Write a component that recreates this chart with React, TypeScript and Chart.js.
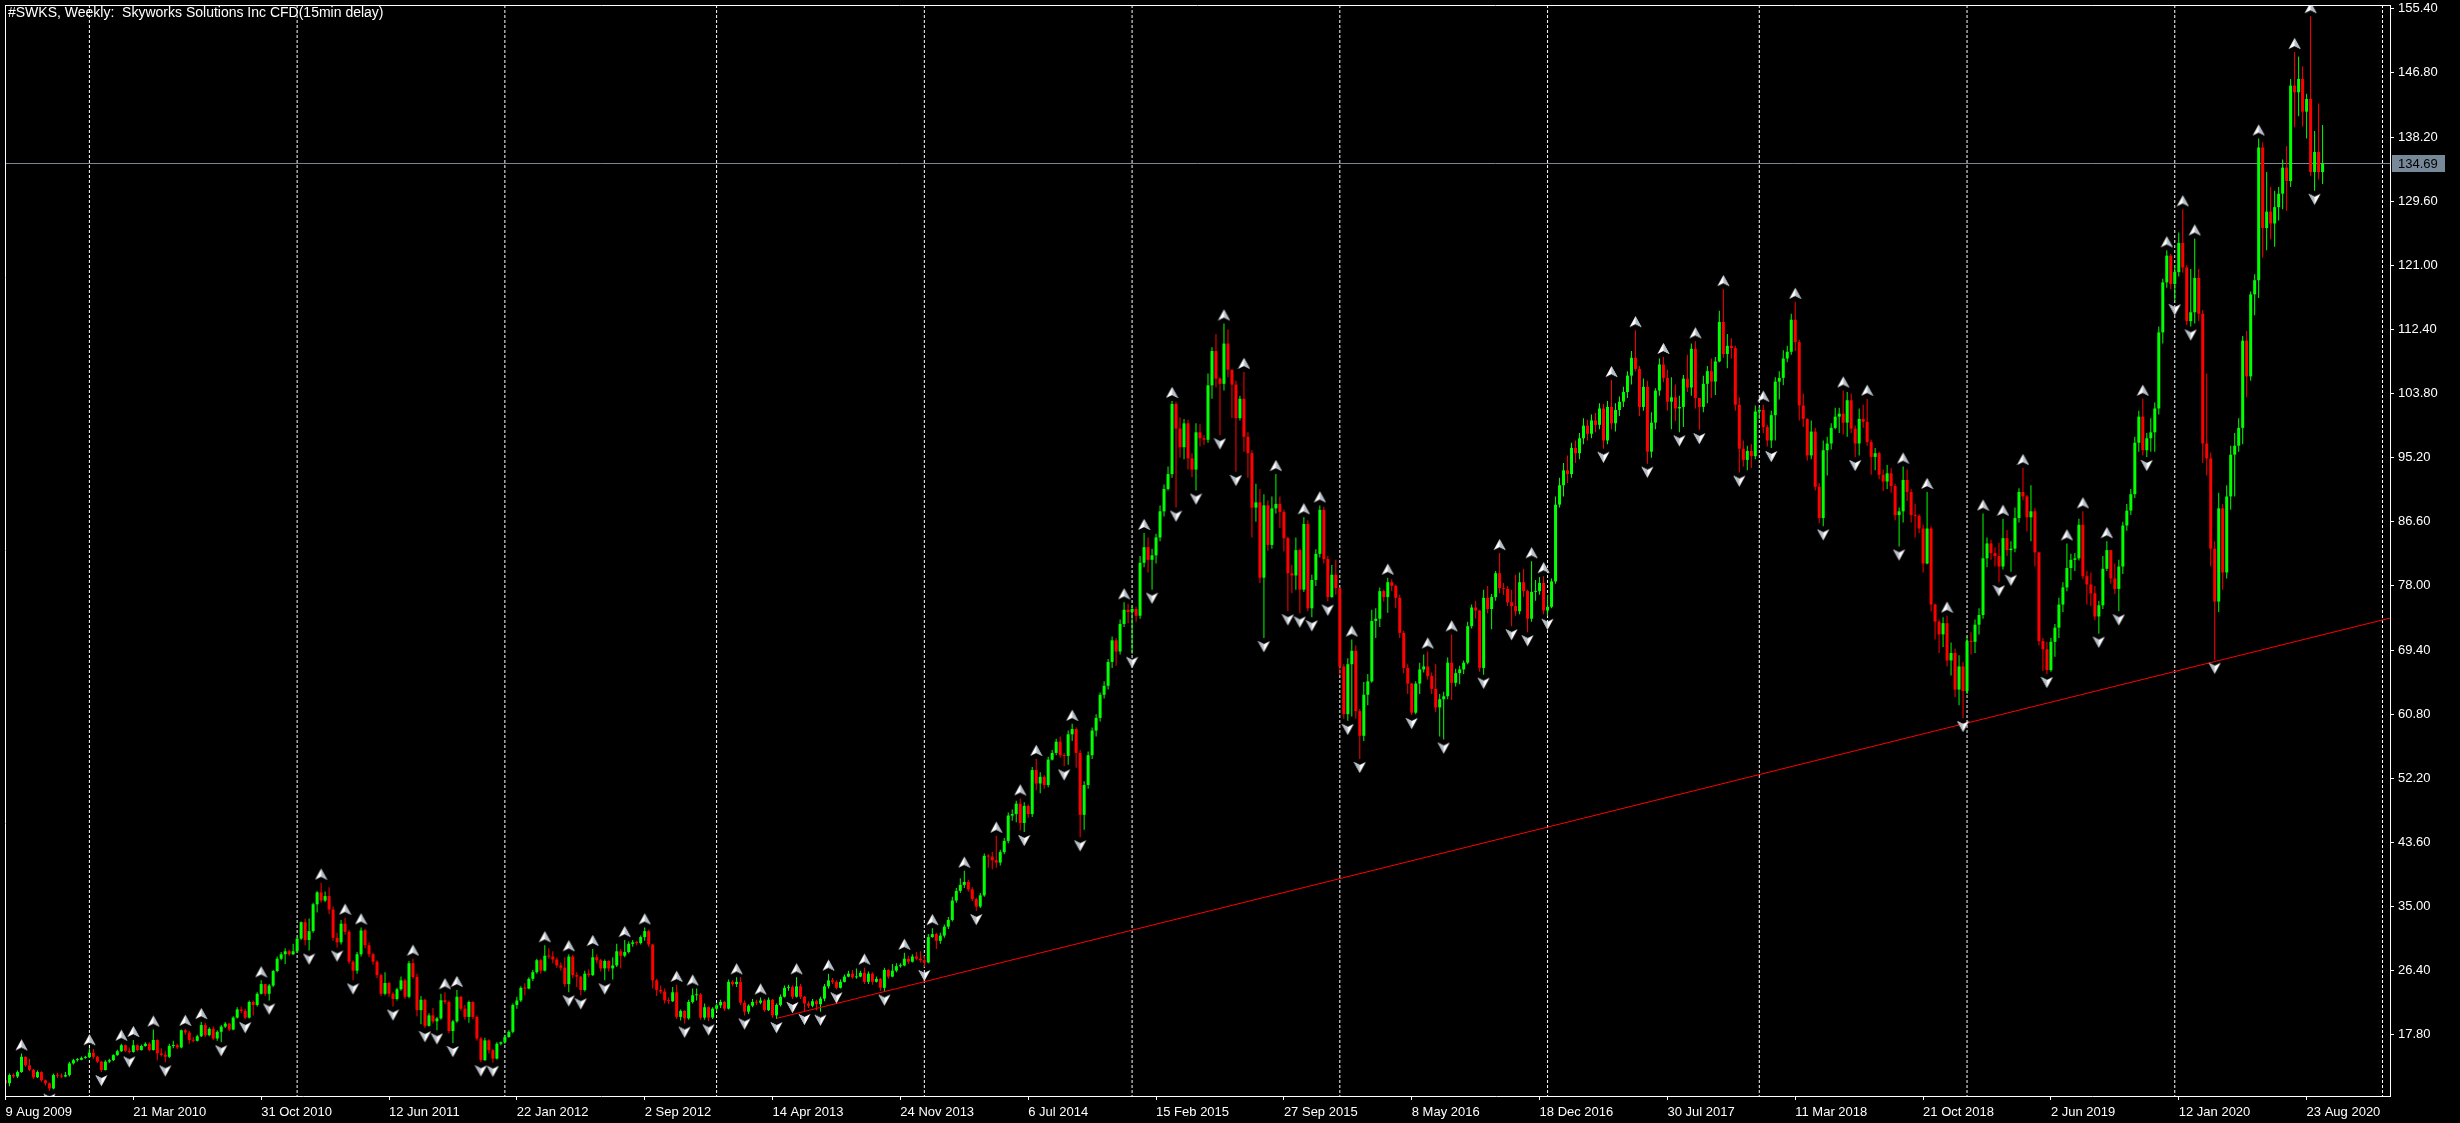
import React, { useEffect, useRef } from 'react';
import { Chart, registerables } from 'chart.js';

Chart.register(...registerables);

const titleText = '#SWKS, Weekly:  Skyworks Solutions Inc CFD(15min delay)';
const FIRST_OPEN = 11.7;
const currentPrice = 134.69;

// weekly closes, one per bar starting 9 Aug 2009
const closes = [
  11.3, 12.4, 12.2, 12.8, 14.85, 13.7, 13.1, 12.1, 12.8, 11.7,
  11.3, 10.6, 12.4, 12.3, 12.2, 12.4, 13.96, 14.4, 14.45, 14.7,
  14.8, 15.4, 14.85, 14.2, 13.07, 14.2, 14.4, 15.07, 15.6, 16.4,
  15.65, 15.5, 16.4, 15.74, 16.3, 16.6, 15.75, 17.1, 15.3, 15.1,
  14.85, 16.3, 16.4, 16.1, 18.4, 18.1, 17.1, 17.0, 17.6, 19.1,
  17.75, 18.6, 17.3, 18.2, 18.9, 19.3, 18.5, 20.1, 21.2, 21.0,
  20.1, 22.2, 21.8, 23.3, 24.6, 23.3, 24.4, 26.35, 28.0, 28.6,
  29.0, 28.6, 29.0, 30.7, 32.9, 30.5, 31.7, 35.3, 36.9, 35.8,
  36.4, 34.6, 30.8, 30.2, 32.7, 31.6, 27.6, 26.4, 28.6, 31.8,
  29.8, 28.6, 27.6, 25.8, 23.3, 24.75, 23.3, 22.6, 23.9, 25.1,
  22.9, 27.4, 25.55, 21.1, 22.5, 19.0, 20.4, 19.6, 20.0, 22.43,
  22.2, 18.3, 19.6, 22.9, 21.3, 20.2, 22.2, 20.2, 17.3, 14.4,
  17.05, 15.74, 14.6, 16.6, 16.8, 17.5, 18.2, 21.8, 22.4, 24.1,
  24.0, 25.3, 26.2, 27.8, 26.4, 28.4, 28.3, 27.9, 27.1, 26.8,
  24.6, 28.3, 25.8, 25.6, 23.8, 26.0, 25.8, 28.2, 27.8, 26.7,
  27.7, 26.7, 27.1, 29.0, 28.4, 28.9, 30.0, 30.2, 30.1, 30.9,
  31.7, 29.9, 25.1, 23.8, 23.6, 22.4, 22.3, 23.5, 20.2, 21.0,
  20.0, 22.2, 23.1, 23.2, 20.1, 21.5, 20.1, 21.3, 21.75, 22.2,
  21.3, 24.9, 24.6, 24.9, 22.1, 20.9, 21.7, 22.2, 22.1, 22.4,
  21.1, 22.5, 20.4, 21.8, 22.9, 24.1, 24.2, 22.9, 24.3, 22.9,
  22.0, 21.7, 22.3, 21.9, 22.65, 24.3, 25.1, 24.9, 24.1, 24.9,
  25.6, 26.0, 25.5, 25.6, 26.1, 24.9, 26.0, 24.9, 25.3, 24.1,
  26.5, 25.6, 26.4, 27.0, 27.1, 28.0, 27.6, 28.3, 28.0, 27.8,
  27.5, 30.9, 31.3, 30.4, 31.1, 32.3, 33.2, 35.8, 37.1, 37.9,
  38.3, 37.3, 36.0, 35.0, 36.5, 41.8, 41.7, 41.2, 40.9, 42.3,
  43.8, 47.2, 47.4, 48.8, 46.2, 48.5, 47.4, 53.3, 51.5, 52.4,
  51.3, 54.7, 55.6, 57.1, 55.3, 55.2, 58.1, 58.8, 55.6, 47.3,
  51.3, 55.3, 58.6, 60.3, 63.4, 64.6, 67.8, 70.7, 69.2, 72.9,
  74.8, 74.5, 74.9, 74.0, 81.1, 83.2, 81.5, 82.1, 84.5, 88.0,
  91.0, 93.0, 102.4, 99.1, 96.6, 99.8, 95.1, 93.6, 98.6, 97.8,
  97.6, 104.9, 109.5, 105.8, 105.1, 110.5, 107.0, 105.0, 100.5, 103.1,
  98.0, 95.8, 88.5, 89.2, 79.1, 88.8, 83.5, 88.4, 89.0, 87.9,
  84.4, 79.7, 79.4, 82.8, 77.5, 86.3, 75.0, 78.8, 82.3, 88.2,
  81.6, 76.5, 79.5, 77.7, 67.2, 60.8, 67.5, 69.3, 61.2, 57.9,
  63.4, 65.2, 73.3, 73.6, 77.3, 76.5, 78.5, 78.0, 76.4, 71.7,
  67.0, 64.9, 61.0, 64.9, 66.8, 67.2, 65.9, 64.2, 61.7, 62.8,
  63.2, 67.7, 65.0, 66.3, 66.8, 67.7, 72.6, 75.1, 74.7, 67.0,
  76.4, 74.9, 76.5, 79.7, 77.7, 77.6, 75.8, 75.3, 74.6, 78.5,
  77.3, 73.6, 77.2, 77.3, 78.4, 74.7, 75.2, 78.6, 88.9, 91.5,
  93.5, 93.0, 96.5, 95.8, 97.8, 99.5, 98.4, 100.2, 99.6, 101.8,
  97.5, 102.0, 99.8, 101.6, 102.7, 104.0, 106.2, 108.6, 107.1, 102.0,
  104.7, 96.0, 99.9, 104.2, 107.7, 105.9, 102.7, 103.3, 101.8, 102.0,
  105.8, 104.6, 109.8, 103.2, 102.0, 105.1, 106.8, 105.4, 108.1, 113.4,
  109.1, 110.2, 109.9, 102.3, 96.4, 94.9, 96.1, 95.4, 101.4, 101.6,
  99.3, 97.5, 100.9, 105.4, 105.9, 108.5, 109.4, 113.7, 110.7, 102.2,
  100.4, 95.5, 98.7, 91.3, 87.1, 96.2, 97.1, 99.2, 100.7, 101.1,
  99.9, 102.9, 99.1, 97.1, 100.4, 100.0, 97.3, 95.3, 95.8, 92.9,
  92.0, 93.1, 91.4, 87.5, 88.0, 92.2, 90.6, 87.5, 87.4, 85.7,
  81.0, 85.7, 75.5, 73.2, 71.5, 73.0, 68.0, 69.0, 64.1, 67.2,
  63.9, 70.6, 70.5, 72.8, 74.1, 81.7, 83.7, 82.4, 82.0, 80.6,
  84.4, 82.8, 83.0, 87.1, 90.6, 90.0, 87.2, 88.0, 82.5, 70.6,
  69.5, 66.7, 70.5, 72.4, 75.5, 77.8, 80.4, 81.5, 81.7, 86.2,
  79.3, 78.2, 77.0, 73.9, 75.4, 80.3, 82.8, 79.0, 77.6, 80.6,
  86.1, 88.1, 90.3, 97.2, 100.7, 96.2, 97.8, 98.6, 101.8, 112.0,
  118.7, 122.3, 118.5, 120.1, 124.0, 120.7, 113.5, 114.7, 119.3, 114.5,
  97.1, 95.1, 83.0, 75.9, 88.4, 79.8, 90.0, 95.6, 96.8, 99.2,
  110.9, 106.1, 117.1, 119.0, 136.8, 126.0, 128.2, 126.6, 128.8, 130.6,
  134.1, 132.3, 145.1, 144.2, 146.0, 141.6, 143.3, 133.5, 136.2, 133.5,
  134.69,
];

const highs = [
  12.0, 12.6, 12.6, 13.0, 15.3, 14.9, 14.6, 13.2, 13.0, 12.9,
  11.8, 11.4, 12.6, 12.7, 12.6, 12.8, 14.2, 14.6, 14.7, 14.9,
  15.0, 16.0, 15.9, 15.0, 14.3, 14.4, 14.6, 15.2, 15.8, 16.6,
  16.5, 16.1, 17.1, 16.5, 16.5, 16.8, 16.8, 18.5, 17.2, 16.0,
  15.6, 16.6, 17.0, 16.6, 18.5, 18.6, 18.3, 17.5, 17.8, 19.5,
  19.4, 18.8, 18.9, 18.4, 19.1, 19.5, 19.4, 20.3, 21.5, 21.6,
  21.3, 22.4, 22.4, 23.5, 25.1, 24.6, 24.6, 26.5, 28.3, 28.9,
  29.4, 29.2, 30.0, 30.9, 33.0, 33.4, 33.4, 35.5, 37.1, 38.2,
  37.0, 37.6, 35.0, 31.5, 33.2, 33.5, 31.9, 27.8, 28.9, 32.2,
  32.0, 30.2, 28.8, 27.8, 26.0, 26.2, 24.9, 23.5, 24.1, 25.6,
  25.3, 27.7, 28.0, 26.0, 23.0, 22.6, 20.7, 21.4, 20.2, 23.3,
  23.5, 22.4, 19.8, 23.8, 23.0, 21.8, 22.4, 22.3, 20.4, 17.5,
  17.4, 17.2, 15.9, 16.8, 16.9, 17.8, 18.4, 22.0, 22.9, 24.3,
  24.7, 25.5, 26.5, 28.0, 28.0, 29.8, 29.4, 29.0, 28.2, 27.5,
  28.2, 28.6, 28.5, 26.2, 25.7, 26.4, 26.6, 29.3, 28.6, 28.0,
  27.9, 27.8, 28.2, 30.0, 29.3, 30.5, 30.3, 30.5, 30.4, 31.1,
  32.2, 31.9, 30.0, 25.3, 24.4, 24.0, 22.8, 24.2, 24.5, 21.2,
  21.1, 22.5, 24.0, 24.0, 23.4, 22.0, 21.6, 21.5, 22.0, 22.5,
  22.3, 25.2, 25.1, 25.5, 25.5, 22.4, 21.9, 22.6, 22.5, 22.8,
  22.6, 22.8, 22.6, 22.0, 23.2, 24.4, 24.5, 24.4, 25.5, 24.6,
  23.0, 22.3, 22.6, 22.5, 22.9, 24.6, 26.0, 25.4, 25.1, 25.2,
  25.9, 26.4, 26.5, 26.7, 26.4, 26.8, 26.3, 26.2, 25.6, 25.4,
  26.8, 26.6, 27.3, 27.4, 27.4, 28.8, 28.4, 28.6, 28.9, 29.0,
  28.4, 31.3, 32.1, 31.5, 31.5, 32.6, 33.6, 36.3, 37.5, 38.8,
  39.8, 38.6, 37.6, 36.2, 36.8, 42.1, 42.0, 42.3, 44.5, 42.6,
  44.2, 47.6, 48.0, 49.2, 49.5, 49.0, 48.7, 53.7, 54.8, 53.0,
  52.6, 55.1, 56.0, 57.5, 57.8, 55.6, 58.6, 59.5, 59.0, 56.0,
  51.8, 55.8, 59.0, 60.8, 63.7, 65.2, 68.2, 71.2, 71.0, 73.5,
  75.8, 75.6, 75.4, 75.2, 82.0, 85.1, 84.5, 83.0, 85.0, 88.8,
  91.6, 94.0, 102.8, 102.7, 100.6, 100.4, 100.3, 95.8, 99.8, 99.7,
  98.2, 106.5, 110.0, 111.8, 106.0, 113.2, 112.4, 107.0, 105.5, 103.5,
  106.7, 98.6, 96.2, 91.7, 91.0, 90.3, 89.5, 90.0, 93.0, 90.0,
  88.2, 84.6, 80.8, 84.5, 83.0, 87.2, 86.8, 79.5, 82.9, 88.8,
  88.6, 82.0, 80.8, 81.5, 77.8, 67.5, 68.3, 70.8, 70.0, 61.5,
  65.1, 66.2, 74.8, 75.0, 77.8, 77.5, 79.1, 78.9, 78.2, 76.8,
  72.0, 67.5, 65.0, 65.2, 67.7, 68.8, 69.2, 66.4, 67.5, 63.5,
  63.8, 68.4, 71.5, 66.9, 67.3, 68.0, 73.2, 75.5, 76.0, 74.8,
  77.5, 78.0, 76.9, 80.0, 82.4, 78.4, 78.0, 77.5, 79.5, 79.8,
  80.3, 77.5, 81.3, 78.8, 79.2, 79.3, 76.8, 79.0, 90.0, 92.5,
  94.5, 95.5, 97.2, 97.5, 98.5, 100.5, 100.3, 101.0, 101.2, 102.5,
  102.4, 102.8, 105.6, 102.5, 103.4, 104.7, 106.8, 109.5, 112.3, 107.5,
  105.8, 105.5, 101.3, 104.5, 108.5, 108.7, 107.0, 106.0, 105.0, 103.5,
  106.3, 109.0, 110.5, 110.8, 103.2, 106.2, 107.5, 108.5, 108.7, 114.9,
  117.8, 111.8, 111.2, 110.2, 103.3, 97.5, 96.8, 97.0, 102.2, 102.0,
  102.3, 99.6, 101.5, 106.0, 106.8, 109.6, 110.2, 114.5, 116.1, 111.0,
  103.8, 100.5, 100.2, 99.2, 91.8, 97.5, 98.0, 99.8, 101.9, 101.9,
  104.2, 104.0, 103.8, 99.5, 101.8, 102.3, 103.1, 97.6, 96.5, 96.0,
  93.6, 94.2, 93.8, 91.7, 88.5, 94.0, 93.6, 91.0, 89.0, 87.6,
  86.2, 90.6, 86.0, 75.6, 73.5, 73.8, 74.0, 70.4, 69.6, 68.7,
  67.8, 71.2, 71.8, 73.5, 75.0, 87.7, 84.5, 84.2, 83.2, 83.8,
  87.0, 85.5, 84.0, 88.5, 91.1, 93.8, 90.2, 91.5, 88.4, 82.5,
  71.0, 70.5, 71.0, 72.9, 76.4, 78.5, 83.7, 82.3, 82.4, 87.0,
  88.0, 80.0, 79.8, 78.0, 76.0, 82.0, 84.0, 82.8, 81.0, 81.5,
  86.6, 89.0, 91.0, 98.0, 101.5, 103.1, 98.5, 100.5, 102.6, 112.8,
  119.2, 123.0, 122.5, 121.0, 125.4, 128.5, 121.0, 120.5, 124.6, 120.5,
  115.0, 106.5, 95.9, 84.0, 90.5, 89.0, 91.5, 96.8, 98.5, 100.5,
  111.5, 112.2, 117.5, 119.8, 138.0, 137.5, 133.5, 131.5, 131.0, 131.5,
  135.2, 137.0, 146.0, 149.6, 149.0, 147.7, 144.0, 154.4, 139.0, 142.7,
  139.8,
];

const lows = [
  11.0, 10.9, 12.0, 12.0, 12.7, 13.5, 12.9, 11.9, 12.0, 11.5,
  11.0, 10.3, 10.5, 12.0, 12.0, 12.1, 12.2, 13.8, 14.2, 14.4,
  14.6, 14.7, 14.6, 14.0, 12.8, 13.0, 14.0, 14.3, 15.0, 15.5,
  15.5, 15.3, 15.4, 15.6, 15.7, 16.2, 15.6, 15.7, 14.4, 14.9,
  14.1, 14.7, 16.0, 15.9, 16.0, 17.8, 16.6, 16.8, 16.9, 17.5,
  17.5, 17.6, 17.1, 17.0, 16.8, 18.7, 18.3, 18.4, 20.0, 20.7,
  19.9, 20.0, 20.4, 21.6, 23.2, 23.0, 22.4, 24.2, 26.2, 27.8,
  27.3, 28.4, 28.5, 28.8, 30.5, 29.8, 29.1, 31.5, 34.2, 35.5,
  35.6, 34.0, 30.4, 29.5, 29.9, 31.2, 27.3, 25.1, 26.0, 28.3,
  29.4, 28.2, 27.2, 25.4, 23.0, 23.1, 22.9, 21.6, 22.4, 23.7,
  22.6, 22.7, 25.3, 20.3, 19.2, 18.7, 18.9, 19.3, 18.4, 19.8,
  21.9, 18.0, 16.7, 19.4, 21.0, 19.8, 19.4, 19.9, 17.0, 14.1,
  14.3, 15.3, 14.05, 14.5, 16.4, 16.6, 17.4, 18.0, 21.3, 22.2,
  23.1, 23.9, 25.0, 26.0, 26.0, 26.3, 28.0, 27.4, 26.8, 26.4,
  24.2, 23.5, 25.4, 24.2, 23.1, 23.6, 25.5, 25.7, 27.4, 26.3,
  25.1, 26.3, 25.2, 26.9, 26.7, 28.2, 28.7, 29.6, 29.8, 29.9,
  30.4, 29.6, 24.0, 23.0, 23.3, 22.0, 21.9, 22.2, 19.9, 19.7,
  19.3, 19.8, 22.0, 22.4, 19.8, 19.8, 19.6, 19.9, 21.0, 21.4,
  21.0, 21.2, 24.3, 24.2, 21.8, 20.4, 20.6, 21.5, 21.8, 21.9,
  20.9, 21.0, 20.1, 19.9, 21.6, 22.8, 23.7, 22.6, 22.8, 22.6,
  21.0, 21.4, 21.5, 21.1, 20.9, 22.3, 24.0, 24.6, 23.9, 24.0,
  24.8, 25.5, 25.3, 25.3, 25.5, 24.6, 24.6, 24.5, 24.8, 23.7,
  23.6, 25.3, 25.5, 26.2, 26.8, 27.0, 27.3, 27.5, 27.8, 27.5,
  26.9, 27.4, 30.8, 29.3, 30.0, 30.8, 32.0, 33.0, 35.5, 36.8,
  37.5, 37.0, 35.7, 34.4, 34.8, 36.3, 40.2, 40.0, 40.2, 40.5,
  42.0, 43.5, 46.5, 46.3, 45.2, 45.0, 46.9, 47.0, 50.6, 50.2,
  50.8, 51.0, 54.6, 55.3, 55.0, 53.8, 54.0, 57.2, 53.6, 44.3,
  45.3, 50.8, 54.8, 57.8, 59.8, 62.9, 64.1, 67.0, 67.3, 68.8,
  72.5, 73.0, 68.9, 73.2, 73.6, 80.5, 79.8, 77.5, 81.0, 84.0,
  87.3, 90.8, 92.5, 88.5, 95.2, 95.0, 93.6, 92.6, 90.8, 96.7,
  96.9, 97.2, 103.1, 104.6, 98.2, 104.2, 106.0, 100.5, 93.3, 100.2,
  96.0, 92.5, 84.5, 86.6, 78.4, 71.0, 82.7, 83.0, 87.7, 85.8,
  82.6, 74.6, 77.0, 77.5, 74.3, 77.2, 74.6, 73.8, 78.0, 81.8,
  81.0, 75.9, 76.4, 76.8, 66.0, 60.2, 59.9, 60.5, 60.2, 54.8,
  57.2, 62.0, 65.0, 71.0, 72.5, 75.9, 74.4, 77.3, 75.0, 71.0,
  66.3, 63.5, 60.7, 60.8, 63.5, 66.4, 65.4, 63.5, 61.1, 57.8,
  57.4, 62.8, 62.7, 64.5, 64.8, 66.2, 67.5, 72.3, 73.6, 66.5,
  66.1, 74.3, 72.2, 76.0, 77.0, 76.8, 75.3, 72.6, 74.0, 74.2,
  76.5, 71.8, 73.2, 76.0, 76.8, 74.2, 74.0, 75.0, 78.3, 88.5,
  90.0, 91.8, 92.5, 94.5, 95.0, 97.0, 97.5, 97.8, 98.6, 99.0,
  96.4, 97.0, 99.0, 98.7, 100.8, 102.0, 103.2, 105.0, 106.8, 100.8,
  101.5, 94.4, 95.2, 99.0, 103.5, 105.3, 101.5, 99.0, 100.1, 98.6,
  99.3, 104.0, 103.5, 101.8, 98.9, 101.3, 102.5, 103.2, 103.6, 108.0,
  108.6, 107.2, 108.5, 101.5, 93.2, 94.0, 93.5, 93.8, 95.0, 100.4,
  98.5, 96.7, 96.5, 97.5, 103.0, 104.9, 108.0, 109.0, 109.5, 100.2,
  99.3, 94.8, 95.0, 90.8, 86.4, 86.0, 92.8, 96.3, 99.0, 98.5,
  98.3, 98.0, 98.5, 95.3, 95.5, 99.2, 96.8, 92.9, 93.5, 92.3,
  90.7, 91.0, 90.5, 86.8, 83.3, 86.5, 89.4, 86.5, 84.5, 85.1,
  79.8, 80.9, 74.6, 70.8, 69.0, 69.8, 67.2, 66.0, 63.1, 62.0,
  60.3, 63.5, 68.8, 69.0, 71.5, 73.6, 80.5, 81.5, 80.6, 78.5,
  80.2, 82.0, 79.9, 82.5, 86.5, 89.5, 85.3, 84.0, 80.6, 70.0,
  66.6, 66.2, 66.5, 68.5, 71.0, 74.5, 77.3, 78.8, 80.0, 81.4,
  78.9, 75.5, 75.3, 73.4, 71.6, 74.9, 80.0, 78.3, 76.9, 74.6,
  79.6, 85.4, 87.5, 89.8, 96.0, 95.5, 95.3, 96.0, 96.0, 101.0,
  110.5, 118.0, 117.8, 116.2, 119.5, 120.0, 113.0, 112.8, 113.2, 113.5,
  94.5, 92.8, 80.6, 68.1, 74.5, 77.5, 79.0, 88.2, 90.0, 96.0,
  97.0, 103.3, 105.5, 114.3, 116.6, 122.0, 123.0, 124.5, 123.5, 127.0,
  128.5, 128.3, 131.5, 139.5, 141.0, 139.6, 138.0, 133.0, 131.0, 132.5,
  131.9,
];

const dateTickIdx = [0, 32, 64, 96, 128, 160, 192, 224, 256, 288, 320, 352, 384, 416, 448, 480, 512, 544, 576];
const dateLabels = [
  '9 Aug 2009', '21 Mar 2010', '31 Oct 2010', '12 Jun 2011', '22 Jan 2012', '2 Sep 2012',
  '14 Apr 2013', '24 Nov 2013', '6 Jul 2014', '15 Feb 2015', '27 Sep 2015', '8 May 2016',
  '18 Dec 2016', '30 Jul 2017', '11 Mar 2018', '21 Oct 2018', '2 Jun 2019', '12 Jan 2020', '23 Aug 2020',
];
const priceTicks = [17.8, 26.4, 35.0, 43.6, 52.2, 60.8, 69.4, 78.0, 86.6, 95.2, 103.8, 112.4, 121.0, 129.6, 138.2, 146.8, 155.4];
const yearStartIdx = [21, 73, 125, 178, 230, 282, 334, 386, 439, 491, 543, 595];
const trendX = [193, 597];
const trendY = [20.0, 73.7];

const UP = '#00ff00';
const DOWN = '#ff0000';
const FONT = 'Liberation Sans';

function makeArrow(up: boolean) {
  const c = document.createElement('canvas');
  c.width = 13;
  c.height = 30;
  const g = c.getContext('2d')!;
  g.fillStyle = '#ffffff';
  g.beginPath();
  if (up) {
    g.moveTo(6.5, 1); g.lineTo(12.5, 12); g.lineTo(6.5, 9); g.lineTo(0.5, 12);
  } else {
    g.moveTo(6.5, 29); g.lineTo(12.5, 18); g.lineTo(6.5, 21); g.lineTo(0.5, 18);
  }
  g.closePath();
  g.fill();
  g.fillStyle = '#b4bcc6';
  g.beginPath();
  if (up) {
    g.moveTo(6.5, 1); g.lineTo(12.5, 12); g.lineTo(6.5, 9);
  } else {
    g.moveTo(6.5, 29); g.lineTo(0.5, 18); g.lineTo(6.5, 21);
  }
  g.closePath();
  g.fill();
  return c;
}

export default function App() {
  const ref = useRef<HTMLCanvasElement | null>(null);

  useEffect(() => {
    const canvas = ref.current;
    if (!canvas) return;
    const n = closes.length;
    const opens = closes.map((c, i) => (i === 0 ? FIRST_OPEN : closes[i - 1]));
    const colors = closes.map((c, i) => (c >= opens[i] ? UP : DOWN));
    const bodies = closes.map((c, i) => ({ x: i, y: [opens[i], c] }));
    const wicks = closes.map((c, i) => ({ x: i, y: [lows[i], highs[i]] }));

    const upFr: { x: number; y: number }[] = [];
    const dnFr: { x: number; y: number }[] = [];
    for (let i = 2; i < n - 2; i++) {
      if (highs[i] > highs[i - 1] && highs[i] > highs[i - 2] && highs[i] >= highs[i + 1] && highs[i] >= highs[i + 2]) {
        upFr.push({ x: i, y: highs[i] });
      }
      if (lows[i] < lows[i - 1] && lows[i] < lows[i - 2] && lows[i] <= lows[i + 1] && lows[i] <= lows[i + 2]) {
        dnFr.push({ x: i, y: lows[i] });
      }
    }

    const upImg = makeArrow(true);
    const dnImg = makeArrow(false);

    const decor = {
      id: 'mt4decor',
      beforeDatasetsDraw(chart: any) {
        const { ctx, chartArea, scales } = chart;
        const xs = scales.x;
        const ys = scales.y;
        ctx.save();
        ctx.strokeStyle = '#ffffff';
        ctx.lineWidth = 1;
        ctx.setLineDash([3, 2]);
        yearStartIdx.forEach((idx) => {
          const px = xs.getPixelForValue(idx);
          ctx.beginPath();
          ctx.moveTo(px, chartArea.top);
          ctx.lineTo(px, chartArea.bottom);
          ctx.stroke();
        });
        ctx.setLineDash([]);
        const py = Math.round(ys.getPixelForValue(currentPrice)) + 0.5;
        ctx.strokeStyle = '#778899';
        ctx.beginPath();
        ctx.moveTo(chartArea.left, py);
        ctx.lineTo(chartArea.right, py);
        ctx.stroke();
        ctx.restore();
      },
      afterDraw(chart: any) {
        const { ctx, chartArea, scales } = chart;
        const ys = scales.y;
        ctx.save();
        ctx.strokeStyle = '#ffffff';
        ctx.lineWidth = 1;
        ctx.beginPath();
        ctx.moveTo(chartArea.left + 0.5, chartArea.top);
        ctx.lineTo(chartArea.left + 0.5, chartArea.bottom);
        ctx.moveTo(chartArea.left, chartArea.top + 0.5);
        ctx.lineTo(chartArea.right, chartArea.top + 0.5);
        ctx.stroke();
        ctx.fillStyle = '#ffffff';
        ctx.font = `14px "${FONT}"`;
        ctx.textBaseline = 'middle';
        ctx.textAlign = 'left';
        ctx.fillText(titleText, 8, 13);
        const py = Math.round(ys.getPixelForValue(currentPrice)) + 0.5;
        ctx.fillStyle = '#778899';
        ctx.fillRect(chartArea.right + 2, py - 8.5, 53, 17);
        ctx.fillStyle = '#000000';
        ctx.font = `13px "${FONT}"`;
        ctx.fillText(currentPrice.toFixed(2), chartArea.right + 8, py + 0.5);
        ctx.restore();
      },
    };

    const chart = new Chart(canvas, {
      type: 'bar',
      data: {
        datasets: [
          { type: 'scatter', label: 'up fractals', data: upFr, pointStyle: upImg as any, pointRadius: 3, order: 0 } as any,
          { type: 'scatter', label: 'down fractals', data: dnFr, pointStyle: dnImg as any, pointRadius: 3, order: 0 } as any,
          {
            type: 'line',
            label: 'trend',
            data: trendX.map((x, k) => ({ x, y: trendY[k] })),
            borderColor: '#ff0000',
            borderWidth: 1,
            pointRadius: 0,
            order: 1,
          } as any,
          {
            type: 'bar',
            label: 'body',
            data: bodies as any,
            backgroundColor: colors,
            borderWidth: 0,
            barThickness: 3,
            minBarLength: 1,
            grouped: false,
            inflateAmount: 0,
            order: 2,
          } as any,
          {
            type: 'bar',
            label: 'wick',
            data: wicks as any,
            backgroundColor: colors,
            borderWidth: 0,
            barThickness: 1,
            grouped: false,
            inflateAmount: 0,
            order: 3,
          } as any,
        ],
      },
      options: {
        responsive: false,
        animation: false,
        devicePixelRatio: 1,
        events: [],
        layout: { padding: { left: 2, top: 2, right: 0, bottom: 0 } },
        plugins: { legend: { display: false }, tooltip: { enabled: false }, title: { display: false } },
        scales: {
          x: {
            type: 'linear',
            min: -0.125,
            max: 596.875,
            offset: false,
            bounds: 'data',
            grid: { display: true, drawOnChartArea: false, drawTicks: true, tickLength: 4, color: '#ffffff', offset: false },
            border: { display: true, color: '#ffffff', width: 1 },
            afterBuildTicks: (s: any) => { s.ticks = dateTickIdx.map((v) => ({ value: v })); },
            afterFit: (s: any) => {
              s.height = 27;
              s.paddingLeft = 0;
              s.paddingRight = 0;
              s.paddingTop = 0;
              s.paddingBottom = 0;
            },
            ticks: {
              autoSkip: false,
              maxRotation: 0,
              minRotation: 0,
              align: 'start',
              padding: 5,
              color: '#ffffff',
              font: { family: FONT, size: 13 },
              callback: (v: any) => {
                const k = dateTickIdx.indexOf(Number(v));
                return k >= 0 ? dateLabels[k] : '';
              },
            },
          },
          y: {
            type: 'linear',
            position: 'right',
            min: 9.59,
            max: 155.908,
            bounds: 'data',
            grid: { display: true, drawOnChartArea: false, drawTicks: true, tickLength: 4, color: '#ffffff' },
            border: { display: true, color: '#ffffff', width: 1 },
            afterBuildTicks: (s: any) => { s.ticks = priceTicks.map((v) => ({ value: v })); },
            afterFit: (s: any) => {
              s.width = 70;
              s.paddingTop = 0;
              s.paddingBottom = 0;
              s.paddingLeft = 0;
              s.paddingRight = 0;
            },
            ticks: {
              autoSkip: false,
              padding: 4,
              color: '#ffffff',
              font: { family: FONT, size: 13 },
              callback: (v: any) => Number(v).toFixed(2),
            },
          },
        },
      } as any,
      plugins: [decor],
    });

    return () => chart.destroy();
  }, []);

  return (
    <div style={{ position: 'fixed', left: 0, top: 0, width: 2460, height: 1123, background: '#000000' }}>
      <canvas ref={ref} width={2460} height={1123} style={{ display: 'block', width: 2460, height: 1123 }} />
    </div>
  );
}
